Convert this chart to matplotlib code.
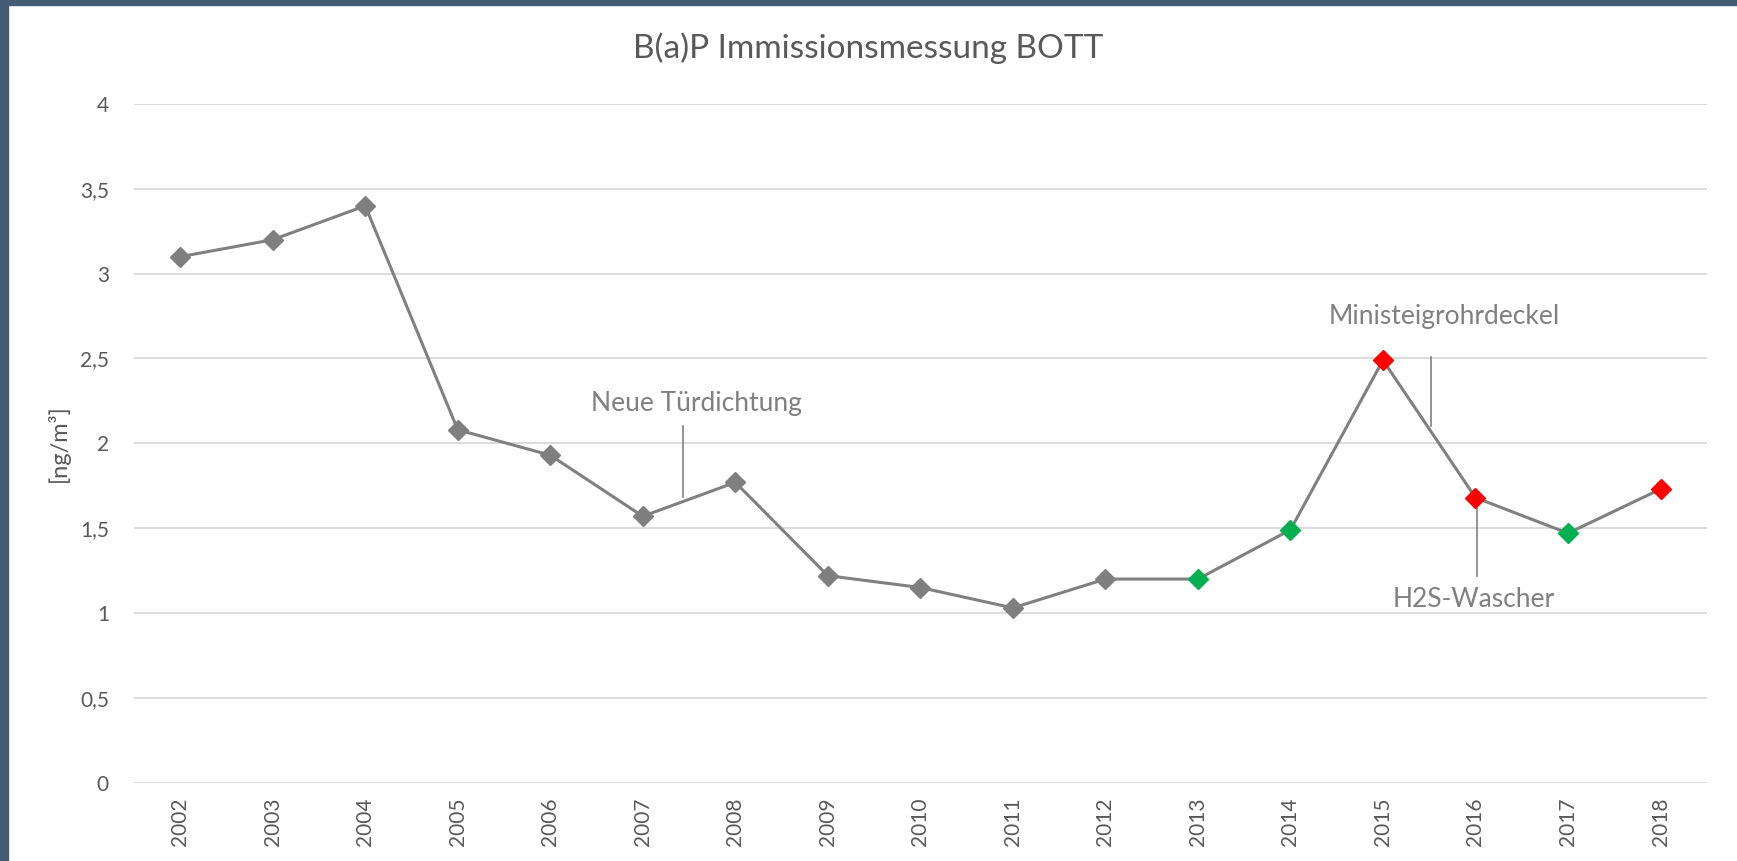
import matplotlib.pyplot as plt
from matplotlib.patches import Rectangle

plt.rcParams['font.family'] = ['Lato', 'DejaVu Sans']

years = ['2002', '2003', '2004', '2005', '2006', '2007', '2008', '2009', '2010',
         '2011', '2012', '2013', '2014', '2015', '2016', '2017', '2018']
values = [3.10, 3.20, 3.40, 2.08, 1.93, 1.57, 1.77, 1.22, 1.15,
          1.03, 1.20, 1.20, 1.49, 2.49, 1.68, 1.47, 1.73]
marker_colors = ['#7f7f7f'] * 11 + ['#00b050', '#00b050', '#ff0000', '#ff0000', '#00b050', '#ff0000']

# annotations: text, text position (x index, y), leader line (x, y0, y1)
notes = [
    ('Neue Türdichtung', 5.58, 2.236, 5.44, 1.685, 2.10),
    ('Ministeigrohrdeckel', 13.66, 2.746, 13.52, 2.10, 2.51),
    ('H2S-Wascher', 13.98, 1.077, 14.02, 1.218, 1.656),
]

fig = plt.figure(figsize=(17.37, 8.61), dpi=100)
ax = fig.add_axes([0.0771, 0.0910, 0.9055, 0.7882])

x = range(len(years))
ax.plot(x, values, color='#808080', linewidth=2.2, zorder=2)
for xi, v, c in zip(x, values, marker_colors):
    ax.plot(xi, v, marker='D', markersize=10.5, color=c, markeredgecolor=c, zorder=3)

for text, tx, ty, lx, ly0, ly1 in notes:
    ax.plot([lx, lx], [ly0, ly1], color='#808080', linewidth=1.2, zorder=2)
    ax.text(tx, ty, text, ha='center', va='center', fontsize=19, color='#808080')

ax.set_xlim(-0.5, len(years) - 0.5)
ax.set_ylim(0, 4)
ax.set_yticks([0, 0.5, 1, 1.5, 2, 2.5, 3, 3.5, 4])
ax.set_yticklabels(['0', '0,5', '1', '1,5', '2', '2,5', '3', '3,5', '4'])
ax.set_xticks(list(x))
ax.set_xticklabels(years, rotation=90)
ax.tick_params(axis='both', length=0, labelsize=15, labelcolor='#595959')
ax.tick_params(axis='y', pad=18)
ax.tick_params(axis='x', pad=11)
ax.grid(axis='y', color='#d9d9d9', linewidth=1.3)
ax.set_axisbelow(True)
for s in ax.spines.values():
    s.set_visible(False)

ax.set_ylabel('[ng/m³]', fontsize=17, color='#595959')
ax.yaxis.set_label_coords(-0.041, 0.5)

fig.text(0.5, 0.944, 'B(a)P Immissionsmessung BOTT', ha='center', va='center',
         fontsize=24, color='#595959')

# dark frame on left and top edges
fig.patches.append(Rectangle((0, 0), 8 / 1737, 1, transform=fig.transFigure,
                             color='#435d74', zorder=10))
fig.patches.append(Rectangle((0, 1 - 5 / 861), 1, 5 / 861, transform=fig.transFigure,
                             color='#435d74', zorder=10))

fig.savefig('out.png', dpi=100)
